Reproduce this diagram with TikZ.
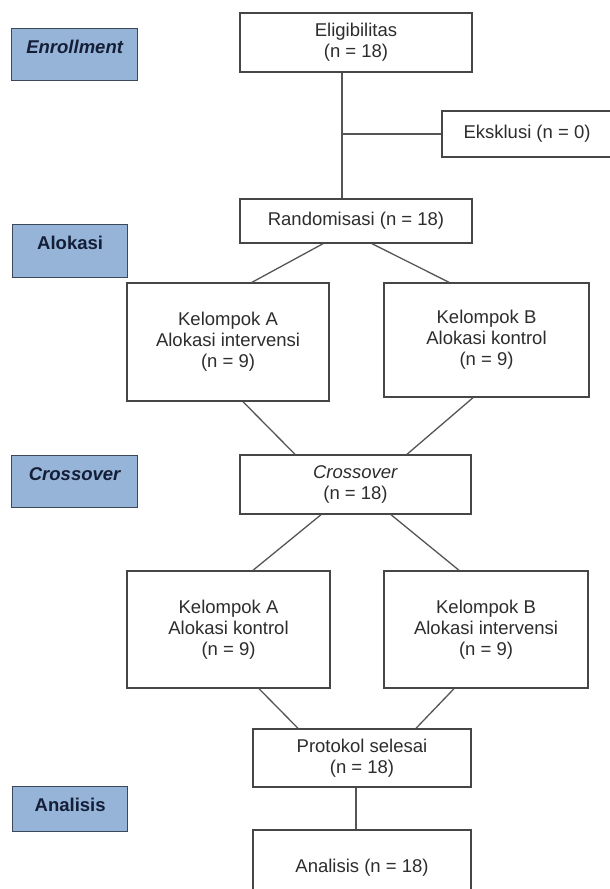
\documentclass[tikz,border=0pt]{standalone}
\usepackage{fontspec}
\setmainfont{Liberation Sans}
\begin{document}
\begin{tikzpicture}[x=1pt,y=-1pt,
    box/.style={draw=boxline, line width=1.4pt, fill=white, inner sep=0pt, align=center,
        text=boxtext, font=\fontsize{18.5}{21}\selectfont},
    lbl/.style={draw=lblline, line width=1.3pt, fill=lblfill, anchor=north west, inner xsep=0pt,
        inner ysep=0pt, text height=25pt, text=lbltext, font=\fontsize{18.5}{21}\selectfont\bfseries},
    conn/.style={draw=connline, line width=1.3pt}]
    % Define colors
        \definecolor{lblfill}{RGB}{150, 180, 216} % Stage blue
        \definecolor{lblline}{RGB}{60, 72, 90}
        \definecolor{lbltext}{RGB}{20, 30, 55}
        \definecolor{boxline}{RGB}{70, 70, 70}
        \definecolor{boxtext}{RGB}{45, 45, 45}
        \definecolor{connline}{RGB}{85, 85, 85}

        \useasboundingbox (0,0) rectangle (610,889);

        % Stage labels on the left
        \node[lbl, minimum width=126pt, text depth=27pt] (enroll) at (11,28) {\itshape Enrollment};
        \node[lbl, minimum width=115pt, text depth=28pt] (alok) at (12,224) {Alokasi};
        \node[lbl, minimum width=126pt, text depth=27pt] (cross lbl) at (11,455) {\itshape Crossover};
        \node[lbl, minimum width=115pt, text depth=20pt] (anal lbl) at (12,786) {Analisis};

        % Flow boxes
        \node[box, minimum width=232pt, minimum height=59pt] (elig) at (356,42.5) {Eligibilitas\\(n = 18)};
        \node[box, minimum width=170pt, minimum height=46pt] (eks) at (527,134) {Eksklusi (n = 0)};
        \node[box, minimum width=232pt, minimum height=44pt] (rand) at (356,221) {Randomisasi (n = 18)};
        \node[box, minimum width=202pt, minimum height=118pt] (kelA1) at (228,342) {Kelompok A\\Alokasi intervensi\\(n = 9)};
        \node[box, minimum width=205pt, minimum height=114pt] (kelB1) at (486.5,340) {Kelompok B\\Alokasi kontrol\\(n = 9)};
        \node[box, minimum width=231pt, minimum height=59pt] (cross) at (355.5,484.5) {\textit{Crossover}\\(n = 18)};
        \node[box, minimum width=203pt, minimum height=117pt] (kelA2) at (228.5,629.5) {Kelompok A\\Alokasi kontrol\\(n = 9)};
        \node[box, minimum width=204pt, minimum height=117pt] (kelB2) at (486,629.5) {Kelompok B\\Alokasi intervensi\\(n = 9)};
        \node[box, minimum width=218pt, minimum height=58pt] (prot) at (362,758) {Protokol selesai\\(n = 18)};
        \node[box, minimum width=218pt, minimum height=76pt] (anal) at (362,868) {Analisis (n = 18)};

        % Connectors
        \coordinate (split) at (342,134);
        \draw[conn] ([xshift=-14pt]elig.south) -- ([xshift=-14pt]rand.north);
        \draw[conn] (split) -- (eks.west);
        \draw[conn] ([xshift=-33pt]rand.south) -- ([xshift=24pt]kelA1.north);
        \draw[conn] ([xshift=16pt]rand.south) -- ([xshift=-37.5pt]kelB1.north);
        \draw[conn] ([xshift=15pt]kelA1.south) -- ([xshift=-60.5pt]cross.north);
        \draw[conn] ([xshift=-13.5pt]kelB1.south) -- ([xshift=51.5pt]cross.north);
        \draw[conn] ([xshift=-34.5pt]cross.south) -- ([xshift=24.5pt]kelA2.north);
        \draw[conn] ([xshift=35.5pt]cross.south) -- ([xshift=-27pt]kelB2.north);
        \draw[conn] ([xshift=30.5pt]kelA2.south) -- ([xshift=-64pt]prot.north);
        \draw[conn] ([xshift=-32pt]kelB2.south) -- ([xshift=54pt]prot.north);
        \draw[conn] ([xshift=-6pt]prot.south) -- ([xshift=-6pt]anal.north);
    \end{tikzpicture}
\end{document}
